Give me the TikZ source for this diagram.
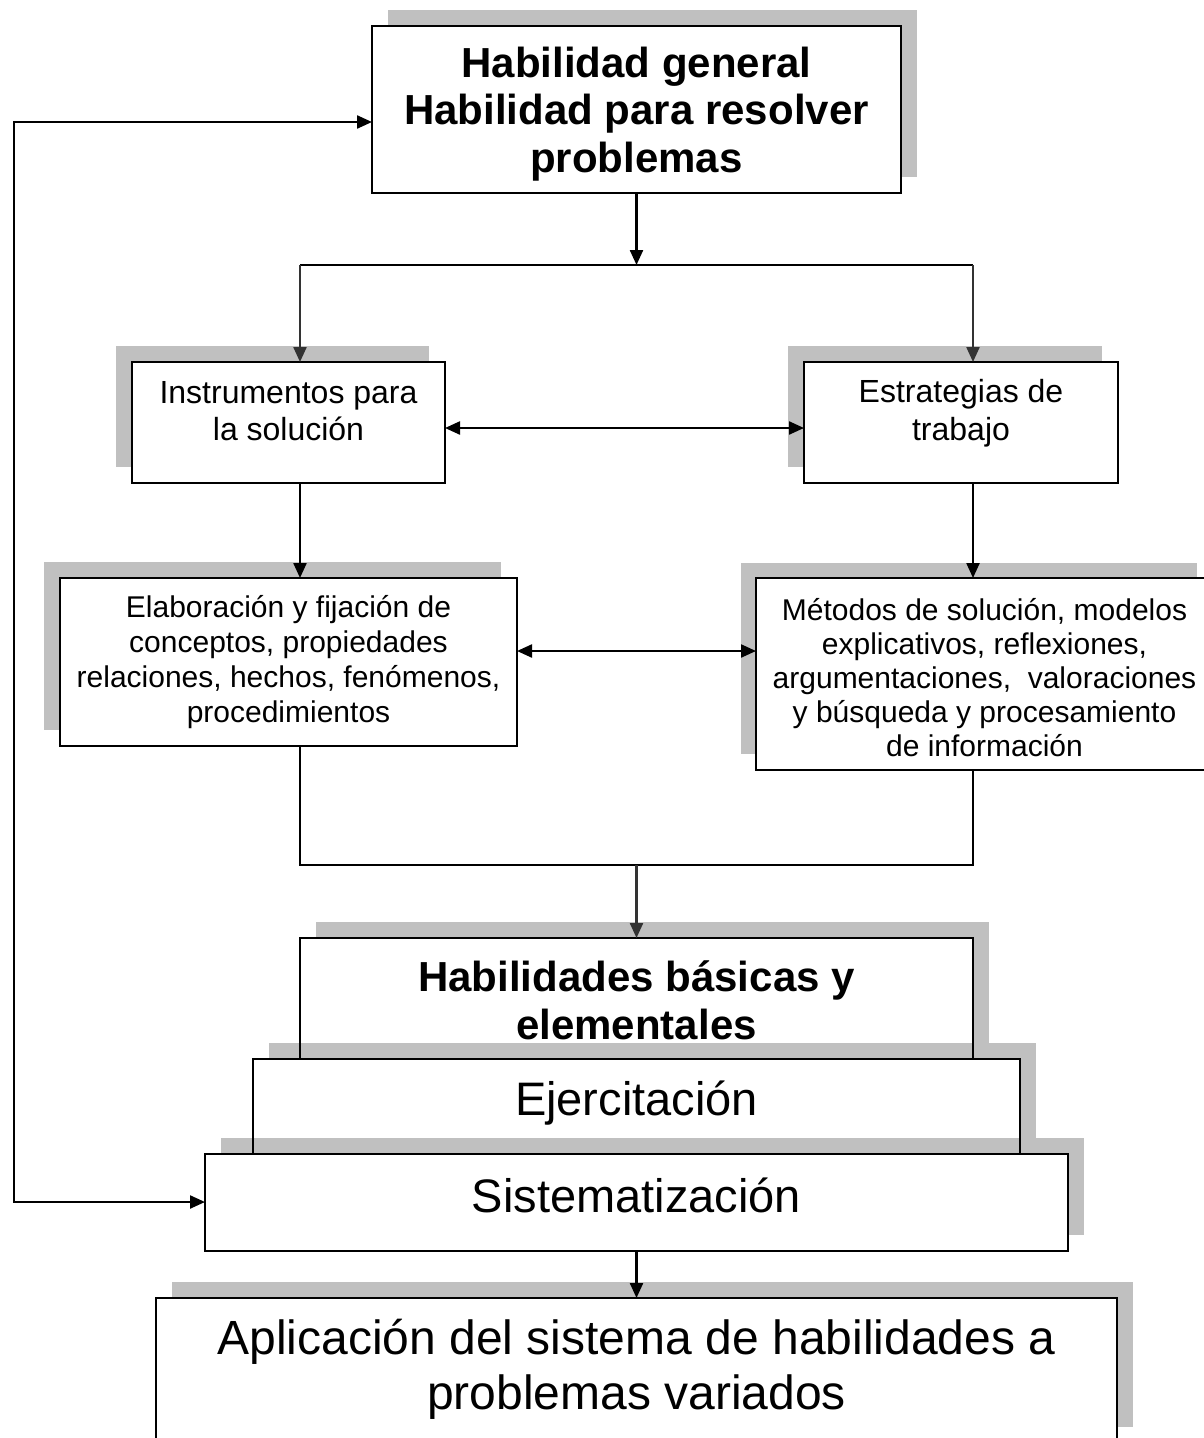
\documentclass[tikz,border=0pt]{standalone}
\usepackage{fontspec}
\setmainfont{Liberation Sans}
\usetikzlibrary{arrows.meta}
\definecolor{shadowgray}{RGB}{192,192,192}
\begin{document}
\begin{tikzpicture}[x=1pt,y=-1pt,
  shade/.style={fill=shadowgray},
  box/.style={draw, line width=2pt, fill=white, inner sep=0pt, outer sep=0pt},
  boxfill/.style={fill=white, inner sep=0pt, outer sep=0pt},
  edge/.style={line width=2pt},
  label/.style={inner sep=0pt, align=center},
  line/.style={line width=2.3pt},
  tip/.style={Triangle[length=15pt,width=13pt]},
  conn/.style={line width=2.3pt, -{Triangle[length=15pt,width=13pt]}},
  conn2/.style={line width=2.3pt, {Triangle[length=15pt,width=13pt]}-{Triangle[length=15pt,width=13pt]}},
  fbig/.style={font=\fontsize{42}{47.5}\selectfont\bfseries},
  fmid/.style={font=\fontsize{32}{37.5}\selectfont},
  fsmall/.style={font=\fontsize{30}{35}\selectfont},
  fhuge/.style={font=\fontsize{47}{54}\selectfont},
]
\useasboundingbox (0,0) rectangle (1204,1438);
\clip (0,0) rectangle (1204,1438);

% --- general ability box
\fill[shade] (388,10) rectangle (917,177);
\node[box, minimum width=529pt, minimum height=167pt] (top) at (636.5,109.5) {};
\node[label, fbig] (toptxt) at (636.5,114) {Habilidad general\\Habilidad para resolver\\problemas};

% --- second level
\fill[shade] (116,346) rectangle (429,467);
\node[box, minimum width=313pt, minimum height=121pt] (inst) at (288.5,422.5) {};
\node[label, fmid] (insttxt) at (288.5,411) {Instrumentos para\\la solución};

\fill[shade] (788,346) rectangle (1102,467);
\node[box, minimum width=314pt, minimum height=121pt] (estr) at (961,422.5) {};
\node[label, fmid] (estrtxt) at (961,413) {Estrategias de\\trabajo};

% --- third level
\fill[shade] (44,562) rectangle (501,730);
\node[box, minimum width=457pt, minimum height=168pt] (elab) at (288.5,662) {};
\node[label, fsmall] (elabtxt) at (288.5,662.5) {Elaboración y fijación de\\conceptos, propiedades\\relaciones, hechos, fenómenos,\\procedimientos};

\fill[shade] (741,563) rectangle (1197,754);
\node[box, minimum width=457pt, minimum height=192pt] (meto) at (984.5,674) {};
\node[label, font=\fontsize{30}{34.2}\selectfont] (metotxt) at (984.5,677.5) {Métodos de solución, modelos\\explicativos, reflexiones,\\argumentaciones,~ valoraciones\\y búsqueda y procesamiento\\de información};

% --- stacked steps
\fill[shade] (316,922) rectangle (989,1064);
\node[boxfill, minimum width=673pt, minimum height=142pt] (hab) at (636.5,1009) {};
\node[label, font=\fontsize{42}{48}\selectfont\bfseries] (habtxt) at (636.5,1000) {Habilidades básicas y\\elementales};

\fill[shade] (269,1043) rectangle (1036,1154);
\draw[edge] (hab.south west) rectangle (hab.north east);
\node[boxfill, minimum width=767pt, minimum height=111pt] (ejer) at (636.5,1114.5) {};
\node[inner sep=0pt, fhuge, anchor=base] (ejertxt) at (636.5,1115) {Ejercitación};

\fill[shade] (221,1138) rectangle (1084,1235);
\draw[edge] (ejer.south west) rectangle (ejer.north east);
\node[box, minimum width=863pt, minimum height=97pt] (sist) at (636.5,1202.5) {};
\node[inner sep=0pt, fhuge, anchor=base] (sisttxt) at (636.5,1212) {Sistematización};

% --- application
\fill[shade] (172,1282) rectangle (1133,1427);
\node[box, minimum width=961pt, minimum height=145pt] (apl) at (636.5,1370.5) {};
\node[label, font=\fontsize{48}{55}\selectfont] (apltxt) at (636.5,1369) {Aplicación del sistema de habilidades a\\problemas variados};

% --- connectors
\coordinate (jl) at (300,265);
\coordinate (jr) at (973,265);
\coordinate (jm) at (636.5,265);
\coordinate (jb) at (636.5,865);
\coordinate (mid1) at (620,428);
\coordinate (mid2) at (620,651);
\coordinate (looptop) at (14,122);
\coordinate (loopbot) at (14,1202);

\draw[conn] (top.south) -- (jm);
\draw[line] (jl) -- (jr);
\draw[conn, draw=black!80, fill=black!80] (jl) -- (jl |- inst.north);
\draw[conn, draw=black!80, fill=black!80] (jr) -- (jr |- estr.north);

\draw[conn2] (inst.east |- mid1) -- (estr.west |- mid1);
\draw[conn] (inst.south -| jl) -- (elab.north -| jl);
\draw[conn] (estr.south -| jr) -- (meto.north -| jr);

\draw[conn2] (elab.east |- mid2) -- (meto.west |- mid2);
\draw[line] (elab.south -| jl) |- (jb) -| (meto.south -| jr);
\draw[conn, draw=black!80, fill=black!80] (jb) -- (hab.north);

\draw[conn] (sist.south) -- (apl.north);

\draw[conn2] (top.west |- looptop) -- (looptop) -- (loopbot) -- (sist.west |- loopbot);
\end{tikzpicture}
\end{document}
